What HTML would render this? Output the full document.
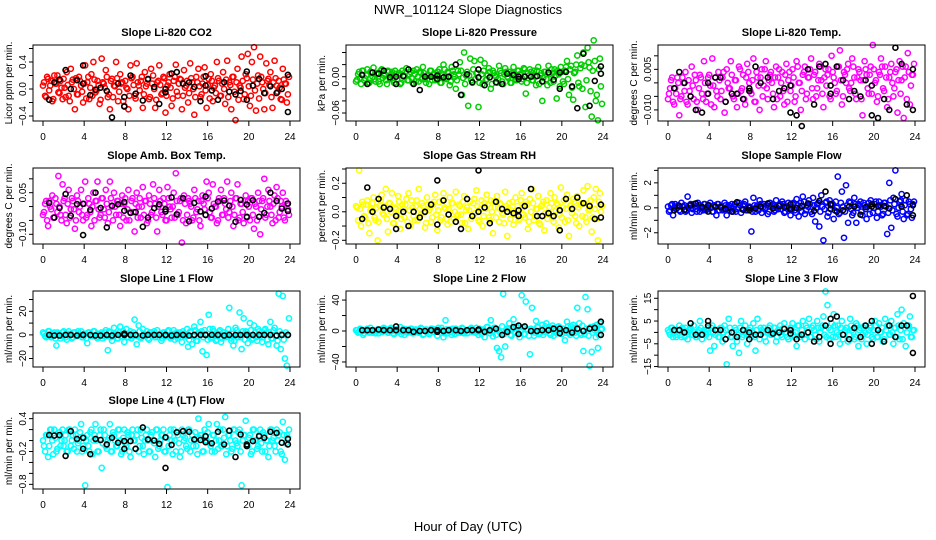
<!DOCTYPE html>
<html><head><meta charset="utf-8"><style>
html,body{margin:0;padding:0;background:#fff;}
svg{display:block;font-family:"Liberation Sans",Arial,sans-serif;}
</style></head><body>
<svg id="chart" width="936" height="540" viewBox="0 0 936 540" xmlns="http://www.w3.org/2000/svg">
<rect width="936" height="540" fill="#fff"/>
<text x="468" y="14" text-anchor="middle" font-size="13">NWR_101124  Slope Diagnostics</text>
<text x="468" y="531" text-anchor="middle" font-size="13">Hour of Day (UTC)</text>
</svg>
<script>
const hours=[0.1,0.3,0.5,0.7,0.9,1.1,1.3,1.5,1.7,1.9,2.1,2.3,2.5,2.7,2.9,3.1,3.3,3.5,3.7,3.9,4.1,4.3,4.5,4.7,4.9,5.1,5.3,5.5,5.7,5.9,6.1,6.3,6.5,6.7,6.9,7.1,7.3,7.5,7.7,7.9,8.1,8.3,8.5,8.7,8.9,9.1,9.3,9.5,9.7,9.9,10.1,10.3,10.5,10.7,10.9,11.1,11.3,11.5,11.7,11.9,12.1,12.3,12.5,12.7,12.9,13.1,13.3,13.5,13.7,13.9,14.1,14.3,14.5,14.7,14.9,15.1,15.3,15.5,15.7,15.9,16.1,16.3,16.5,16.7,16.9,17.1,17.3,17.5,17.7,17.9,18.1,18.3,18.5,18.7,18.9,19.1,19.3,19.5,19.7,19.9,20.1,20.3,20.5,20.7,20.9,21.1,21.3,21.5,21.7,21.9,22.1,22.3,22.5,22.7,22.9,23.1,23.3,23.5,23.7,23.9];
const hours2=[0.0,0.2,0.4,0.6,0.8,1.0,1.2,1.4,1.6,1.8,2.0,2.2,2.4,2.6,2.8,3.0,3.2,3.4,3.6,3.8,4.0,4.2,4.4,4.6,4.8,5.0,5.2,5.4,5.6,5.8,6.0,6.2,6.4,6.6,6.8,7.0,7.2,7.4,7.6,7.8,8.0,8.2,8.4,8.6,8.8,9.0,9.2,9.4,9.6,9.8,10.0,10.2,10.4,10.6,10.8,11.0,11.2,11.4,11.6,11.8,12.0,12.2,12.4,12.6,12.8,13.0,13.2,13.4,13.6,13.8,14.0,14.2,14.4,14.6,14.8,15.0,15.2,15.4,15.6,15.8,16.0,16.2,16.4,16.6,16.8,17.0,17.2,17.4,17.6,17.8,18.0,18.2,18.4,18.6,18.8,19.0,19.2,19.4,19.6,19.8,20.0,20.2,20.4,20.6,20.8,21.0,21.2,21.4,21.6,21.8,22.0,22.2,22.4,22.6,22.8,23.0,23.2,23.4,23.6,23.8];
const blackHours=[0.6,1.1,1.6,2.2,2.7,3.3,3.9,3.9,4.6,5.1,5.6,6.2,6.7,7.3,7.9,7.9,8.5,9.0,9.7,10.2,10.8,11.3,11.9,11.9,12.5,13.0,13.6,14.2,14.7,15.3,15.8,15.8,16.4,17.0,17.6,18.1,18.7,19.2,19.8,19.8,20.4,21.0,21.5,22.1,22.7,23.2,23.8,23.8];
const xTicks=[0,4,8,12,16,20,24];

const co2Vals=[0.10,-0.12,0.15,0.05,-0.18,0.20,0.08,-0.05,0.12,-0.15,0.02,0.25,-0.10,0.30,0.14,-0.30,-0.08,0.18,0.05,-0.20,0.35,0.10,-0.15,0.22,0.40,-0.05,0.12,-0.22,0.45,0.08,0.28,-0.12,-0.30,0.15,0.05,0.40,-0.18,0.22,0.10,-0.25,0.02,-0.30,0.35,0.18,-0.10,0.38,0.05,0.12,-0.28,0.25,0.08,-0.15,0.30,0.20,-0.28,0.10,0.35,-0.08,0.18,-0.35,0.05,0.22,-0.25,0.12,0.36,-0.10,0.15,-0.30,0.28,0.05,-0.20,0.38,0.10,-0.38,0.18,0.30,-0.12,0.08,0.32,-0.28,0.15,0.22,-0.18,0.05,0.40,0.12,-0.10,0.25,-0.22,0.42,0.10,-0.30,0.18,-0.46,0.30,0.05,0.48,-0.15,0.22,0.52,-0.25,0.40,0.62,-0.32,0.20,0.48,0.10,-0.30,0.38,0.15,0.25,-0.28,0.42,0.05,0.12,-0.15,0.30,0.08,-0.20,0.18];
const co2Vals2=[0.05,-0.10,0.18,-0.02,0.12,-0.15,0.08,0.20,-0.06,0.02,0.15,-0.12,0.06,-0.18,0.10,0.00,0.16,-0.08,0.12,-0.04,0.08,-0.14,0.18,0.02,-0.10,0.14,-0.02,0.06,-0.16,0.10,0.02,0.18,-0.08,0.12,-0.12,0.04,0.16,-0.04,0.08,-0.18,0.12,0.00,-0.10,0.16,0.06,-0.14,0.10,-0.02,0.18,-0.08,0.04,0.14,-0.12,0.08,0.00,-0.16,0.12,0.06,-0.06,0.16,-0.10,0.10,0.02,-0.14,0.18,-0.04,0.08,0.14,-0.10,0.02,0.12,-0.06,0.16,0.00,-0.12,0.10,0.04,-0.08,0.18,-0.02,0.06,-0.14,0.12,0.02,-0.06,0.16,-0.10,0.08,0.00,0.14,-0.12,0.06,0.18,-0.04,0.10,-0.16,0.02,0.12,-0.08,0.16,0.04,-0.10,0.14,-0.02,0.08,-0.14,0.18,0.00,-0.06,0.12,0.06,-0.12,0.10,0.16,-0.04,0.02,-0.16,0.14,0.08,-0.08];
const co2Black=[-0.16,0.1,0.14,0.28,0.0,0.13,0.35,0.08,-0.09,-0.01,0.02,-0.03,-0.42,0.08,-0.12,-0.26,0.2,-0.07,-0.17,0.15,0.03,-0.22,-0.05,0.0,0.23,0.25,0.08,0.1,0.03,-0.18,0.05,0.19,-0.02,-0.16,0.1,-0.04,-0.08,-0.03,0.26,-0.16,0.05,0.15,-0.06,0.04,-0.06,0.0,0.21,-0.34];

const presVals=[-0.005,0.008,-0.012,0.010,-0.003,0.012,-0.010,0.006,0.015,-0.008,0.004,-0.012,0.012,0.002,-0.006,0.010,-0.004,0.008,-0.010,0.005,0.003,-0.012,0.010,0.000,0.014,-0.006,0.008,-0.010,0.004,0.012,-0.008,0.006,0.016,-0.004,0.002,-0.012,0.010,0.004,-0.006,0.008,0.012,-0.010,0.020,-0.002,0.008,-0.014,0.016,0.004,-0.020,0.010,0.024,-0.030,0.040,0.002,-0.048,0.030,-0.010,0.026,0.006,-0.050,0.028,-0.012,0.022,-0.004,0.014,-0.020,0.010,0.002,-0.010,0.018,0.006,-0.012,0.014,0.000,0.008,-0.010,0.016,-0.004,0.010,0.004,-0.008,0.014,-0.028,0.006,0.012,-0.006,0.010,-0.014,0.016,0.002,-0.040,0.008,-0.004,0.018,-0.010,0.006,0.012,-0.036,0.004,0.016,-0.008,0.010,0.026,-0.030,0.018,-0.038,0.008,0.035,-0.016,0.020,0.040,-0.050,0.048,0.015,-0.066,0.060,-0.040,-0.072,0.030,-0.045];
const presVals2=[-0.008,0.004,-0.002,0.010,-0.006,0.002,-0.010,0.008,0.000,-0.004,0.006,-0.008,0.010,-0.002,0.004,-0.012,0.008,0.002,-0.006,0.010,-0.004,0.006,-0.010,0.002,0.008,-0.006,0.004,-0.002,0.010,-0.008,0.000,0.008,-0.004,0.006,-0.010,0.002,0.010,-0.006,0.004,-0.002,0.008,-0.010,0.002,0.012,-0.004,0.006,-0.008,0.010,0.000,-0.006,0.004,0.010,-0.002,-0.012,0.008,0.002,-0.006,0.012,-0.004,0.006,-0.010,0.004,0.010,-0.006,0.002,0.008,-0.012,0.006,0.000,-0.004,0.010,-0.008,0.004,0.008,-0.002,-0.010,0.006,0.002,-0.006,0.010,0.004,-0.004,0.012,-0.010,0.002,0.008,-0.006,0.000,0.010,-0.012,0.006,-0.002,0.008,-0.014,0.004,0.012,-0.008,0.002,0.010,-0.016,0.008,-0.012,0.016,-0.004,0.012,-0.018,0.006,0.020,-0.010,0.014,-0.020,0.018,-0.006,0.024,-0.024,0.010,0.026,-0.030,0.012,-0.016];
const presBlack=[0.003,-0.012,0.007,0.005,0.01,-0.001,0.0,-0.012,0.001,0.012,-0.012,-0.022,0.0,0.0,0.002,-0.004,-0.001,0.0,0.02,-0.03,0.004,-0.009,-0.001,0.012,-0.014,-0.001,-0.009,-0.012,0.005,0.003,-0.004,0.0,0.0,0.0,0.001,-0.008,0.007,-0.005,0.007,-0.02,0.008,-0.016,-0.052,0.038,-0.048,-0.007,0.017,0.005];

const tempVals=[-0.004,0.001,-0.007,-0.002,0.002,-0.012,-0.005,0.000,0.004,-0.008,-0.003,0.006,-0.006,0.001,-0.010,0.003,-0.004,0.008,-0.007,0.002,-0.001,0.009,-0.009,-0.003,0.004,-0.006,0.002,-0.011,0.005,-0.002,0.008,-0.005,0.001,-0.009,0.006,-0.003,0.003,-0.008,0.007,0.000,-0.004,0.009,-0.007,0.002,-0.010,0.005,-0.001,0.008,-0.006,0.003,0.000,-0.009,0.006,0.002,-0.005,0.004,-0.008,0.007,0.001,-0.003,0.005,-0.007,0.008,0.000,-0.010,0.003,0.006,-0.004,0.002,0.009,-0.006,0.004,-0.002,0.007,0.001,-0.009,0.005,0.003,-0.005,0.010,0.002,-0.004,0.006,0.012,-0.008,0.004,0.000,0.007,-0.003,0.009,0.002,-0.006,0.005,0.001,-0.012,0.008,0.003,-0.004,0.006,0.014,0.000,-0.007,0.004,0.009,-0.002,0.006,-0.009,0.002,0.007,-0.005,0.004,-0.011,0.008,0.001,-0.013,0.006,0.011,-0.008,0.003,0.007];
const tempVals2=[-0.006,-0.002,0.002,-0.008,-0.004,0.000,-0.006,0.002,-0.003,-0.007,0.001,-0.005,-0.001,0.003,-0.007,-0.002,0.002,-0.006,0.000,-0.004,0.003,-0.008,-0.001,0.002,-0.005,0.001,-0.003,0.004,-0.007,0.000,-0.002,0.003,-0.006,0.001,-0.004,0.005,-0.002,-0.006,0.002,0.004,-0.003,0.001,-0.007,0.004,-0.001,0.002,-0.005,0.005,-0.002,0.001,0.004,-0.004,0.002,-0.006,0.005,0.000,-0.003,0.003,-0.007,0.004,-0.001,0.002,-0.005,0.006,0.000,-0.003,0.004,-0.006,0.002,0.005,-0.002,0.003,-0.005,0.001,0.006,-0.004,0.002,-0.001,0.005,-0.006,0.004,0.000,-0.003,0.006,0.001,-0.005,0.003,0.005,-0.002,0.000,0.006,-0.004,0.002,0.004,-0.006,0.001,0.005,-0.002,0.003,-0.004,0.005,0.001,-0.005,0.003,0.006,-0.003,0.002,-0.006,0.004,0.000,-0.002,0.005,0.001,-0.004,0.006,0.002,-0.006,0.004,-0.001,0.003];
const tempBlack=[-0.002,0.004,0.0,-0.005,-0.010,-0.011,0.0,-0.004,0.002,0.002,-0.007,-0.004,-0.004,-0.006,-0.002,-0.003,0.006,0.0,0.002,-0.006,-0.003,-0.002,-0.011,-0.001,-0.012,-0.016,0.005,-0.008,0.006,0.007,-0.001,-0.004,0.006,0.001,-0.006,-0.003,-0.005,0.001,-0.001,-0.012,-0.013,-0.006,-0.010,0.013,0.007,-0.008,0.005,-0.010];

const ambVals=[-0.02,0.02,-0.07,0.00,0.04,-0.04,0.01,0.11,-0.03,0.08,0.03,-0.06,0.06,-0.01,0.02,-0.08,0.04,-0.02,0.06,-0.05,0.09,-0.03,0.01,-0.07,0.05,0.02,0.09,-0.04,0.03,-0.01,0.06,-0.06,0.09,0.00,0.05,-0.03,0.02,-0.07,0.04,0.01,-0.05,0.06,-0.02,0.03,-0.09,0.05,0.00,-0.04,0.07,0.02,-0.06,0.04,-0.03,0.08,0.01,-0.09,0.06,-0.02,0.03,-0.05,0.07,0.00,-0.04,0.05,0.12,-0.03,0.02,-0.13,0.04,-0.06,0.03,0.01,-0.05,0.06,-0.02,0.02,-0.07,0.04,-0.01,0.09,0.05,-0.04,0.08,0.00,-0.06,0.03,0.06,-0.03,0.01,0.09,-0.02,0.05,-0.07,0.03,0.08,-0.04,0.01,-0.06,0.04,0.02,-0.05,0.03,-0.08,0.00,0.05,-0.10,0.02,0.10,-0.03,0.06,0.00,-0.06,0.04,0.07,-0.04,0.02,0.05,-0.05,0.01,-0.03];
const ambVals2=[-0.03,0.01,-0.05,0.02,-0.01,-0.04,0.03,-0.02,0.00,-0.05,0.02,-0.03,0.01,-0.04,0.03,-0.01,-0.05,0.02,0.00,-0.03,0.01,-0.04,0.03,-0.02,0.00,-0.05,0.02,-0.01,-0.03,0.03,-0.04,0.01,-0.02,0.03,-0.05,0.00,0.02,-0.03,0.01,-0.04,0.03,-0.01,-0.05,0.02,-0.02,0.01,-0.04,0.03,0.00,-0.03,0.02,-0.05,0.01,-0.02,0.03,-0.04,0.00,0.02,-0.03,0.01,-0.05,0.03,-0.01,0.00,-0.04,0.02,-0.02,0.03,-0.05,0.01,-0.03,0.02,0.00,-0.04,0.03,-0.01,-0.05,0.02,0.01,-0.03,0.03,-0.02,-0.04,0.01,0.00,-0.05,0.02,-0.03,0.03,-0.01,-0.04,0.02,0.00,-0.03,0.03,-0.05,0.01,-0.02,0.02,-0.04,0.00,0.03,-0.03,0.01,-0.05,0.02,-0.01,0.03,-0.04,0.00,0.02,-0.03,0.01,-0.05,0.03,-0.02,0.00,-0.04,0.02,-0.01];
const ambBlack=[0.013,-0.04,-0.005,0.045,-0.033,0.009,-0.103,0.01,-0.012,0.05,-0.005,-0.075,0.003,0.008,-0.015,0.016,-0.023,-0.02,-0.073,-0.04,-0.006,0.008,-0.01,-0.018,0.033,-0.028,0.03,-0.053,0.013,-0.018,0.036,-0.03,-0.007,0.018,0.022,0.003,-0.055,0.024,0.007,-0.037,0.023,-0.037,-0.023,0.05,0.02,-0.007,0.011,-0.016];

const rhVals=[0.03,0.29,-0.10,0.05,-0.04,0.08,-0.15,0.02,0.10,-0.06,-0.20,0.04,0.12,-0.02,0.16,-0.14,0.06,0.13,-0.08,0.02,0.11,-0.12,0.05,-0.04,0.09,0.13,-0.10,0.03,-0.06,0.08,0.16,-0.02,0.04,-0.11,0.10,0.01,-0.07,0.05,0.12,-0.13,0.07,-0.04,0.13,0.02,-0.09,0.10,0.06,-0.05,0.14,-0.02,0.04,-0.08,0.11,0.01,-0.12,0.07,-0.03,0.09,0.15,-0.06,0.02,-0.10,0.06,0.12,-0.04,0.08,-0.15,0.03,0.11,-0.07,0.05,-0.02,0.14,-0.17,0.06,0.01,-0.09,0.10,0.04,-0.05,0.13,-0.02,0.07,-0.12,0.09,0.16,-0.06,0.02,0.11,-0.09,0.05,-0.13,0.08,0.00,0.13,-0.04,0.10,0.06,-0.11,0.17,0.03,-0.07,0.12,-0.17,0.05,0.09,-0.03,0.11,-0.10,0.06,0.15,-0.04,0.18,0.02,-0.14,0.10,0.16,-0.20,0.13,0.04];
const rhVals2=[0.04,-0.06,0.02,0.07,-0.03,0.05,-0.08,0.01,0.06,-0.04,0.03,-0.07,0.08,-0.01,0.04,-0.05,0.06,0.00,-0.08,0.03,-0.02,0.07,-0.05,0.02,0.05,-0.07,0.01,0.08,-0.03,0.04,-0.06,0.02,0.06,-0.01,-0.08,0.05,0.03,-0.04,0.07,-0.02,0.01,-0.06,0.08,0.03,-0.05,0.02,-0.07,0.06,0.00,-0.03,0.05,-0.02,0.07,-0.08,0.03,0.01,-0.05,0.06,-0.01,0.04,-0.07,0.08,-0.03,0.02,0.05,-0.06,0.00,0.07,-0.04,0.03,0.06,-0.01,-0.08,0.04,0.02,-0.05,0.07,-0.02,0.01,-0.06,0.08,0.03,-0.04,0.05,-0.07,0.00,0.06,-0.03,0.02,-0.08,0.04,0.07,-0.01,-0.05,0.03,0.06,-0.07,0.01,0.05,-0.02,-0.04,0.08,0.02,-0.06,0.04,-0.01,0.07,-0.08,0.03,0.05,-0.03,0.06,-0.07,0.01,0.08,-0.04,0.02,-0.05,0.07,0.00];
const rhBlack=[-0.05,0.17,0.0,0.09,0.03,0.02,-0.03,-0.12,0.0,-0.1,0.0,-0.04,0.0,0.05,0.22,-0.09,0.08,-0.02,-0.07,-0.12,0.09,-0.03,0.29,0.0,0.03,-0.08,0.07,0.02,0.0,-0.01,0.01,-0.03,0.04,0.16,-0.03,-0.03,-0.01,-0.03,0.01,-0.13,0.09,0.02,0.1,0.06,0.04,-0.05,0.05,-0.04];

const sampleVals=[-0.3,0.2,-0.6,0.3,0.0,-0.2,0.4,0.1,-0.3,0.9,0.2,-0.4,0.3,-0.1,0.4,-0.3,0.1,0.3,-0.2,0.0,0.4,-0.3,0.2,-0.6,0.3,0.1,-0.2,0.4,-0.6,0.2,0.0,-0.3,0.3,-0.1,0.4,-0.4,0.2,0.5,-0.2,0.1,-1.9,0.8,-0.3,0.2,0.6,-0.4,0.3,0.0,-0.5,0.4,0.2,-0.3,0.6,-0.1,0.3,0.5,-0.4,0.1,0.4,-0.6,0.3,-0.2,0.7,-0.7,0.4,0.9,-0.5,0.2,0.6,-0.3,0.8,-1.1,0.3,-1.5,1.0,-2.6,0.4,-0.7,0.6,0.2,-0.9,0.5,2.5,-0.4,1.3,-2.4,1.8,-1.2,0.4,-0.6,0.8,-1.2,0.3,0.5,-0.6,0.2,-0.9,0.4,0.6,-0.4,0.3,-0.8,0.5,0.1,-0.5,0.4,-2.1,2.0,-1.6,0.8,3.0,-0.7,0.5,1.1,-0.9,0.6,-0.5,0.3,-0.8,0.5];
const sampleVals2=[0.1,-0.2,0.3,0.0,-0.1,0.2,-0.3,0.1,0.2,-0.2,0.0,0.3,-0.1,0.1,-0.3,0.2,0.0,-0.2,0.3,-0.1,0.2,0.0,-0.3,0.1,0.3,-0.2,0.1,-0.1,0.2,0.0,-0.2,0.3,0.1,-0.3,0.0,0.2,-0.1,0.3,-0.2,0.1,0.0,-0.3,0.2,0.1,-0.2,0.3,0.0,-0.1,0.2,-0.3,0.1,0.3,-0.2,0.0,0.2,-0.1,0.3,-0.3,0.1,0.0,-0.2,0.4,-0.4,0.2,0.0,-0.3,0.5,-0.2,0.1,0.3,-0.5,0.2,0.0,0.4,-0.3,0.1,-0.1,0.5,-0.4,0.2,0.3,-0.2,0.0,-0.5,0.4,0.1,-0.3,0.2,0.5,-0.1,-0.4,0.3,0.0,0.2,-0.3,0.4,-0.1,0.1,-0.5,0.3,0.0,0.5,-0.3,0.2,-0.6,0.4,0.1,-0.4,0.6,-0.2,0.3,-0.5,0.0,0.6,-0.3,0.2,-0.6,0.5,-0.1,0.3];
const sampleBlack=[-0.2,0.15,-0.15,0.2,0.35,0.05,0.2,-0.3,0.1,0.05,-0.1,-0.3,0.45,-0.15,0.0,-0.2,-0.05,0.1,0.35,-0.05,0.15,0.05,0.3,-0.1,0.0,0.15,0.35,-0.25,0.55,1.3,0.3,-0.1,-0.3,-0.2,0.1,0.1,-0.55,0.05,0.3,0.1,0.15,0.15,-0.05,0.7,0.1,1.0,0.2,-0.6];

const line1Vals=[1,-2,3,0,-1,2,-9,1,-3,2,0,-4,3,1,-2,2,-1,0,3,-2,1,-7,2,-1,3,0,-3,1,2,-1,4,-13,2,-5,6,0,-3,7,1,-6,5,-2,3,-1,13,-8,8,-3,5,0,3,-4,2,1,-2,4,0,-5,2,-1,3,0,-2,4,1,-3,2,-6,1,0,-10,3,-8,7,-5,2,11,-14,4,-17,17,-3,5,0,-4,3,-6,2,-2,1,23,-5,-9,6,-2,19,-12,14,3,-7,10,-4,8,-2,5,-1,-6,4,2,-8,11,-3,6,-9,35,-12,33,-20,-26,14];
const line1Vals2=[2,-1,0,3,-2,1,-3,2,0,-1,3,-2,1,0,-3,2,-1,3,0,-2,1,-3,2,0,-1,3,-2,1,0,-3,2,-1,3,-2,0,1,-3,2,-1,3,0,-2,1,-3,2,0,-1,3,-2,1,0,-3,2,-1,3,0,-2,1,-3,2,-1,4,-3,1,-4,2,0,-2,3,-1,5,-4,2,-1,4,-5,1,3,-2,0,-4,5,-2,3,-5,1,4,-3,2,-1,5,-3,1,-5,4,0,-2,3,-4,2,-1,4,-3,2,-5,3,0,-2,5,-4,2,-3,4,-1,-5,3,1,-4,2,0];
const line1Black=[0,-0.5,-0.5,0,0,-0.5,0,0,0,-0.5,-0.5,0,-0.5,0,1,0,0,0,-0.5,0,0,0,0,0,-0.5,0,0,-0.5,0,0,0,0,0,0,-0.5,0,0,0,0,0,0,0,0,0,-0.5,0,0,0];

const line2Vals=[1,-1,2,-5,0,3,-2,1,0,-3,2,0,-1,4,1,-2,3,0,-4,2,-1,5,0,-5,2,-1,3,-3,1,0,-2,4,-5,1,0,-4,3,-1,2,-6,1,4,-8,14,-3,2,-5,1,3,-2,0,4,-3,1,-2,3,-1,0,4,-5,2,-3,-8,5,0,14,-7,4,-22,-26,-34,48,-20,3,10,-6,15,-2,4,-8,46,-4,38,2,-30,30,-6,13,5,-2,8,-1,10,4,-5,7,2,-3,6,-1,3,-12,12,-3,6,8,-2,30,10,-5,-26,44,28,-45,-27,6,-8,-22,10,3];
const line2Vals2=[1,-2,3,0,-3,2,-1,4,-2,1,0,-3,2,-1,3,0,-2,4,-3,1,2,-1,-4,3,0,-2,1,3,-3,2,-1,0,3,-4,2,1,-2,3,-1,0,4,-2,1,-3,2,0,-1,3,-4,2,1,-2,3,0,-3,2,4,-1,-2,1,3,-4,2,-1,5,-3,0,4,-5,2,-2,6,-4,1,3,-5,2,-1,6,-3,0,5,-4,2,-6,3,1,-2,5,-4,2,-5,6,0,-3,4,-6,2,5,-1,-4,3,-2,6,-5,1,4,-6,2,-3,7,-4,3,-6,5,-2,1,8,-5,2];
const line2Black=[1,1,1,2,1,1,6,1,1,1,-1,0,0,1,1,-1,0,1,1,0,1,1,2,1,-1,1,3,-5,-1,5,7,-4,6,0,0,1,1,3,3,-3,1,-2,3,0,3,4,12,-5];

const line3Vals=[0,2,-2,1,-1,3,-2,0,2,-3,1,-1,3,-2,0,5,-3,1,-1,2,-8,3,-6,1,-2,2,-4,3,-14,6,-2,-6,2,-4,-9,5,-1,3,-5,1,-2,4,-8,6,-3,1,2,-4,0,3,-1,2,-4,1,3,-2,4,0,-3,2,4,-2,-6,3,-1,5,-3,2,6,-2,3,-1,5,-4,2,7,18,12,-3,4,8,-2,3,-5,5,-1,2,-4,6,1,-3,4,-6,2,-1,3,-5,1,2,-3,5,-2,4,0,-4,6,3,-1,5,-5,2,8,-3,10,4,-6,3,7,-2,1];
const line3Vals2=[1,-1,2,0,-2,1,-1,2,-2,0,1,2,-1,0,-2,1,2,-1,0,1,-2,2,0,-1,1,-2,2,0,1,-1,2,-2,0,1,-1,2,-2,1,0,-1,2,0,-2,1,-1,2,0,-2,1,2,-1,0,2,-2,1,-1,2,0,-2,1,2,-1,0,3,-2,1,-1,3,0,-2,2,1,-3,2,0,3,-1,-2,2,1,-2,3,0,-1,2,-3,1,2,-1,3,0,-2,3,1,-3,2,0,-1,3,-2,1,3,-2,0,2,-3,1,3,-1,0,2,-2,3,1,-3,2,0,3,-2,1];
const line3Black=[1,1,0,4,-1,-1,5,3,1,1,-3,0,-2,1,0,-3,-1,-1,1,-0.5,0,1.5,1,-0.5,-3,-1,0,-4,-2,3,6,-5,7,-1,-3,2,-2,3,5,-5,1,-4,3,-2,3,3,16,-9];

const line4Vals=[-0.1,0.1,-0.3,0.2,0.0,0.2,-0.2,0.1,-0.1,0.2,0.0,-0.2,0.2,-0.1,0.1,0.2,-0.2,0.0,0.3,-0.1,-0.82,0.1,-0.2,0.2,0.0,0.3,-0.2,0.1,-0.5,0.2,-0.1,0.0,0.3,-0.2,0.1,-0.1,0.2,0.0,-0.2,0.2,-0.1,0.1,-0.3,0.2,0.0,0.1,-0.2,0.2,-0.1,0.0,0.2,-0.2,0.1,0.0,-0.3,0.2,-0.1,0.1,0.2,-0.2,-0.85,0.1,0.0,0.2,-0.2,0.1,-0.3,0.2,0.0,-0.1,0.2,-0.2,0.1,0.0,-0.1,0.40,0.1,-0.2,0.2,0.0,0.3,-0.1,0.1,-0.2,0.3,0.0,-0.1,0.2,0.43,-0.1,0.1,-0.2,0.2,0.0,-0.1,0.2,-0.82,0.1,0.36,-0.1,0.1,-0.2,0.2,0.0,-0.1,0.2,-0.2,0.1,0.0,-0.3,0.2,0.0,-0.1,0.2,0.1,-0.2,0.34,-0.35,0.1,0.2];
const line4Vals2=[0.0,-0.2,0.1,-0.1,0.2,-0.25,0.05,-0.15,0.15,0.0,-0.1,0.1,-0.2,0.2,0.0,-0.15,0.1,-0.05,0.15,-0.2,0.05,0.0,-0.1,0.15,-0.25,0.1,0.0,-0.2,0.2,-0.05,0.1,-0.15,0.05,-0.2,0.15,0.0,-0.1,0.2,-0.25,0.05,-0.05,0.15,-0.2,0.1,0.0,-0.15,0.2,-0.1,0.05,-0.25,0.1,0.0,-0.2,0.15,-0.05,0.2,-0.15,0.0,0.1,-0.2,0.05,-0.1,0.2,-0.25,0.0,0.15,-0.05,-0.2,0.1,0.05,-0.15,0.2,0.0,-0.1,0.15,-0.25,0.05,0.1,-0.2,0.0,0.15,-0.05,-0.2,0.1,0.0,-0.15,0.2,-0.1,0.05,-0.25,0.1,0.0,-0.15,0.2,-0.05,0.15,-0.2,0.0,0.1,-0.1,0.05,-0.25,0.2,0.0,-0.15,0.1,-0.05,0.15,-0.2,0.0,-0.1,0.2,0.05,-0.2,0.0,0.15,-0.25,0.1,-0.05,0.05];
const line4Black=[0.1,0.09,0.1,-0.28,0.17,0.03,0.05,-0.15,-0.25,0.03,0.01,-0.07,0.05,-0.04,-0.01,-0.15,-0.01,-0.15,0.24,0.02,0.0,-0.06,0.06,-0.5,-0.08,0.15,0.17,0.16,0.02,0.01,0.08,-0.03,-0.05,0.16,-0.07,0.18,-0.3,0.11,-0.1,-0.07,-0.01,0.08,0.05,0.16,0.14,-0.04,0.03,-0.07];

const panelTitles=["Slope Li-820 CO2","Slope Li-820 Pressure","Slope Li-820 Temp.","Slope Amb. Box Temp.","Slope Gas Stream RH","Slope Sample Flow","Slope Line 1 Flow","Slope Line 2 Flow","Slope Line 3 Flow","Slope Line 4 (LT) Flow"];
const panelUnits=["Licor ppm per min.","kPa per min.","degrees C per min.","degrees C per min.","percent per min.","ml/min per min.","ml/min per min.","ml/min per min.","ml/min per min.","ml/min per min."];
const panelTicks=[[-0.4,-0.2,0,0.2,0.4,0.6],[-0.06,-0.04,-0.02,0,0.02,0.04],[-0.01,-0.005,0,0.005,0.01],[-0.1,-0.05,0,0.05,0.1],[-0.2,-0.1,0,0.1,0.2,0.3],[-2,-1,0,1,2,3],[-20,-10,0,10,20,30],[-40,-20,0,20,40],[-15,-10,-5,0,5,10,15],[-0.8,-0.6,-0.4,-0.2,0,0.2,0.4]];
const panelTickLabels=[["−0.4","","0.0","","0.4",""],["−0.06","","","0.00","",""],["−0.010","","","0.005",""],["−0.10","","","0.05",""],["−0.2","","0.0","","0.2",""],["−2","","0","","2",""],["−20","","0","","20",""],["−40","","0","","40"],["−15","","−5","","5","","15"],["−0.8","","","−0.2","","","0.4"]];
const panelDomains=[[-0.474,0.652],[-0.0732,0.0524],[-0.0141,0.014],[-0.135,0.139],[-0.226,0.307],[-2.9,3.19],[-27.2,37.2],[-46.5,51.7],[-15.2,18.2],[-0.885,0.503]];
const panelSeries=[co2Vals,presVals,tempVals,ambVals,rhVals,sampleVals,line1Vals,line2Vals,line3Vals,line4Vals];
const panelSeries2=[co2Vals2,presVals2,tempVals2,ambVals2,rhVals2,sampleVals2,line1Vals2,line2Vals2,line3Vals2,line4Vals2];
const panelBlack=[co2Black,presBlack,tempBlack,ambBlack,rhBlack,sampleBlack,line1Black,line2Black,line3Black,line4Black];
const panelColors=["#ff0000","#00cd00","#ff00ff","#ff00ff","#ffff00","#0000ff","#00ffff","#00ffff","#00ffff","#00ffff"];
const panelNames=["co2","pressure","li820-temp","amb-box-temp","gas-stream-rh","sample-flow","line1-flow","line2-flow","line3-flow","line4-flow"];

const NS="http://www.w3.org/2000/svg";
const svg=document.getElementById('chart');
const colX0=[43,356,668], colW=247;
const rowTop=[45,168,291,413], rowH=76;
function mk(tag,attrs,parent){const e=document.createElementNS(NS,tag);for(const k in attrs)e.setAttribute(k,attrs[k]);parent.appendChild(e);return e;}

panelTitles.forEach((title,p)=>{
  const col=p%3,row=Math.floor(p/3);
  const x0=colX0[col], top=rowTop[row], bot=top+rowH;
  const left=x0-10, right=x0+colW+10;
  const [ymin,ymax]=panelDomains[p];
  const xs=h=>x0+h/24*colW;
  const ys=v=>bot-(v-ymin)/(ymax-ymin)*rowH;
  const g=mk('g',{},svg);
  
  
  const t=mk('text',{x:(left+right)/2,y:top-9,'text-anchor':'middle','font-size':'11','font-weight':'bold'},g);
  t.textContent=title;
  
  
  const yl=mk('text',{transform:`translate(${left-21},${(top+bot)/2}) rotate(-90)`,'text-anchor':'middle','font-size':'10'},g);
  yl.textContent=panelUnits[p];
  
  
  const pg=mk('g',{fill:'none',stroke:panelColors[p],'stroke-width':'1.5'},g);
  
  
  panelSeries2[p].forEach((v,i)=>{
    const c=mk('circle',{cx:xs(hours2[i]).toFixed(1),cy:ys(v).toFixed(1),r:'2.6'},pg);
    
    
  });
  panelSeries[p].forEach((v,i)=>{
    const c=mk('circle',{cx:xs(hours[i]).toFixed(1),cy:ys(v).toFixed(1),r:'2.6'},pg);
    
    
  });
  const bg=mk('g',{fill:'none',stroke:'#000','stroke-width':'1.6'},g);
  
  
  panelBlack[p].forEach((v,i)=>{
    const c=mk('circle',{cx:xs(blackHours[i]).toFixed(1),cy:ys(v).toFixed(1),r:'2.5'},bg);
    
    
  });
  const box=mk('rect',{x:left,y:top,width:right-left,height:rowH,fill:'none',stroke:'#000','stroke-width':'1'},g);
  
  
  const xa=mk('g',{},g);
  
  
  mk('line',{x1:xs(0),x2:xs(24),y1:bot,y2:bot,stroke:'#000'},xa);
  xTicks.forEach(h=>{
    mk('line',{x1:xs(h),x2:xs(h),y1:bot,y2:bot+5,stroke:'#000'},xa);
    const tl=mk('text',{x:xs(h),y:bot+19,'text-anchor':'middle','font-size':'10'},xa);
    tl.textContent=h;
    
    
  });
  const ya=mk('g',{},g);
  
  
  const tk=panelTicks[p];
  mk('line',{x1:left,x2:left,y1:ys(tk[0]),y2:ys(tk[tk.length-1]),stroke:'#000'},ya);
  tk.forEach((v,i)=>{
    mk('line',{x1:left-4,x2:left,y1:ys(v),y2:ys(v),stroke:'#000'},ya);
    const lab=panelTickLabels[p][i];
    if(lab){
      const tl=mk('text',{transform:`translate(${left-7},${ys(v)}) rotate(-90)`,'text-anchor':'middle','font-size':'10'},ya);
      tl.textContent=lab;
      
      
    }
  });
});
</script>
</body></html>
